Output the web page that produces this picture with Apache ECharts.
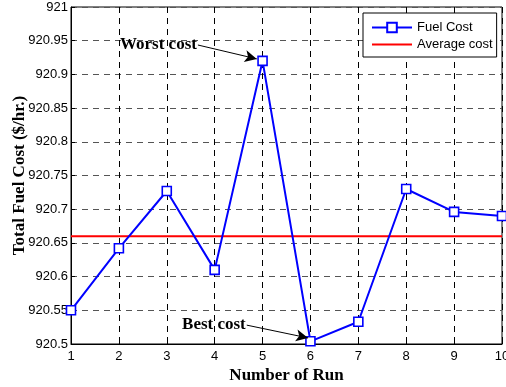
<!DOCTYPE html>
<html lang="en">
<head>
    <meta charset="UTF-8">
    <title>Fuel Cost per Run</title>
    <style>
        html, body { margin: 0; padding: 0; background: #fff; }
        .box { width: 506px; height: 387px; }
    </style>
    <script src="https://cdn.jsdelivr.net/npm/echarts@6/dist/echarts.min.js"></script>
</head>
<body>
    <div class="box"></div>
    <script>
        // values
        var runs = [1, 2, 3, 4, 5, 6, 7, 8, 9, 10];
        var fuelCost = [920.55, 920.642, 920.727, 920.61, 920.92, 920.504, 920.533, 920.73, 920.696, 920.69];
        var averageCost = 920.66;
        var yTicks = [920.5, 920.55, 920.6, 920.65, 920.7, 920.75, 920.8, 920.85, 920.9, 920.95, 921];

        // arrow annotations, in data units: [label, from, to]
        var notes = [
            ['Worst cost', [3.65, 920.9436], [4.88, 920.923]],
            ['Best cost', [4.67, 920.528], [5.95, 920.509]]
        ];

        var chart = echarts.init(document.querySelector('.box'));

        var serif = '"Liberation Serif", "Times New Roman", serif';
        var sans = '"Liberation Sans", Arial, sans-serif';

        var option = {
            animation: false,
            grid: {
                left: 71, right: 4, top: 7, bottom: 43,
                containLabel: false,
                outerBoundsMode: 'none',
                show: true, borderColor: '#000', borderWidth: 1
            },
            legend: {
                orient: 'vertical',
                left: 363, top: 13,
                backgroundColor: '#fff',
                borderColor: '#000', borderWidth: 1, borderRadius: 0,
                padding: [8, 4, 6, 8],
                itemWidth: 40, itemHeight: 12, itemGap: 4,
                textStyle: { fontFamily: sans, fontSize: 13, color: '#000' },
                data: [
                    'Fuel Cost',
                    { name: 'Average cost', itemStyle: { opacity: 0 } }
                ]
            },
            xAxis: {
                type: 'value',
                min: 1, max: 10, interval: 1,
                name: 'Number of Run',
                nameLocation: 'middle',
                nameGap: 23,
                nameMoveOverlap: false,
                nameTextStyle: { fontFamily: serif, fontWeight: 'bold', fontSize: 17, color: '#000' },
                axisLine: { lineStyle: { color: '#000' } },
                axisTick: { inside: true, length: 4, lineStyle: { color: '#000' } },
                axisLabel: { fontFamily: sans, fontSize: 13, color: '#000', margin: 6 },
                splitLine: { show: true, lineStyle: { color: '#000', type: [6, 5] } }
            },
            yAxis: {
                type: 'value',
                min: yTicks[0], max: yTicks[yTicks.length - 1], interval: 0.05,
                name: 'Total Fuel Cost ($/hr.)',
                nameLocation: 'middle',
                nameGap: 43,
                nameMoveOverlap: false,
                nameTextStyle: { fontFamily: serif, fontWeight: 'bold', fontSize: 17, color: '#000' },
                axisLine: { lineStyle: { color: '#000' } },
                axisTick: { inside: true, length: 4, lineStyle: { color: '#000' } },
                axisLabel: {
                    fontFamily: sans, fontSize: 13, color: '#000', margin: 3,
                    formatter: function (v) { return +v.toFixed(2) + ''; }
                },
                splitLine: { show: true, lineStyle: { color: '#555', type: [6, 5] } }
            },
            series: [
                {
                    name: 'Average cost',
                    type: 'line',
                    data: runs.map(function (r) { return [r, averageCost]; }),
                    symbol: 'none',
                    lineStyle: { color: '#ff0000', width: 2 },
                    itemStyle: { color: '#ff0000' },
                    z: 3
                },
                {
                    name: 'Fuel Cost',
                    type: 'line',
                    data: runs.map(function (r, i) { return [r, fuelCost[i]]; }),
                    symbol: 'rect',
                    symbolSize: 9,
                    showAllSymbol: true,
                    lineStyle: { color: '#0000ff', width: 2 },
                    itemStyle: { color: '#fff', borderColor: '#0000ff', borderWidth: 1.6 },
                    z: 4,
                    markLine: {
                        silent: true,
                        symbol: ['none', 'arrow'],
                        symbolSize: [9, 12],
                        lineStyle: { color: '#000', width: 1, type: 'solid' },
                        label: {
                            show: true, position: 'start', distance: 1,
                            fontFamily: serif, fontWeight: 'bold', fontSize: 17, color: '#000'
                        },
                        data: notes.map(function (n) {
                            return [
                                { coord: n[1], label: { formatter: n[0] } },
                                { coord: n[2] }
                            ];
                        })
                    }
                }
            ]
        };

        chart.setOption(option);
    </script>
</body>
</html>
